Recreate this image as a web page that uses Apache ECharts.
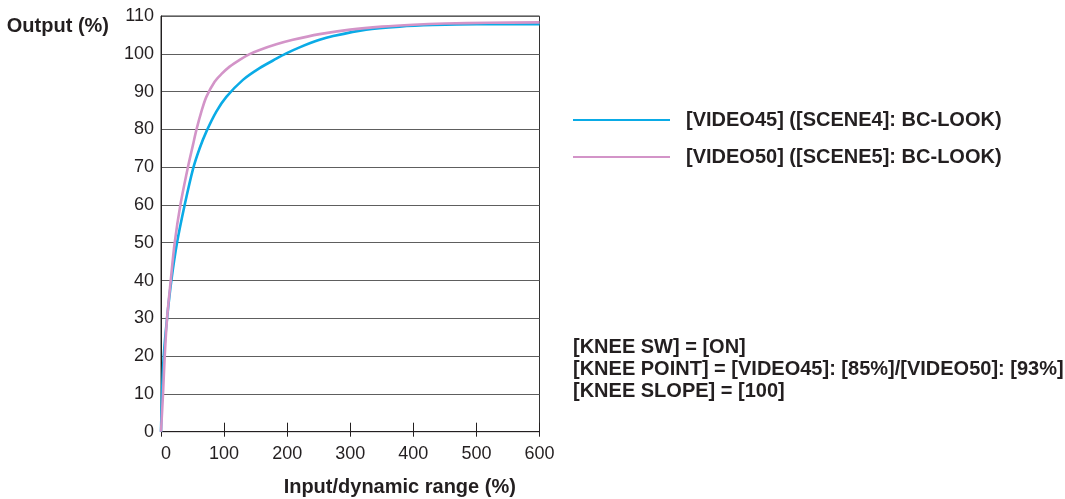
<!DOCTYPE html>
<html>
<head>
<meta charset="utf-8">
<script src="https://cdn.jsdelivr.net/npm/echarts@6/dist/echarts.min.js"></script>
<style>
html,body{margin:0;padding:0;background:#fff;}
#chart{width:1065px;height:499px;}
</style>
</head>
<body>
<div id="chart"></div>
<script>
// ---- data ----
const seriesNames = ['[VIDEO45] ([SCENE4]: BC-LOOK)', '[VIDEO50] ([SCENE5]: BC-LOOK)'];
const video45 = [
  [0,0],[1.6,10],[4.3,20],[9.6,30],[16.4,40],[25.4,50],[37.5,60],[50.7,69.5],[61.3,75],
  [71.9,79.4],[87.7,84.7],[103.6,88.6],[129.9,93.1],[156.3,96.2],[182.8,98.7],[198.6,100.1],
  [219.7,101.7],[251.4,103.7],[273,104.7],[325,106.4],[378,107.2],[431,107.6],[500,107.8],[600,107.8]
];
const video50 = [
  [0,0],[3.2,10],[5.9,20],[9.6,30],[15.4,40],[21.7,50],[30.7,60],[42.8,70.1],[50.7,75.9],
  [56,79.8],[64,84.7],[71.9,88.6],[85,92.6],[95.6,94.6],[108.8,96.6],[124.7,98.4],[140.5,99.9],
  [156.3,101],[182.8,102.5],[209,103.7],[251.4,105.2],[300,106.4],[350,107.2],[400,107.7],
  [450,108],[520,108.2],[600,108.3]
];
const xTicks = [0,100,200,300,400,500,600];
const yTicks = [0,10,20,30,40,50,60,70,80,90,100,110];
const noteLines = [
  '[KNEE SW] = [ON]',
  '[KNEE POINT] = [VIDEO45]: [85%]/[VIDEO50]: [93%]',
  '[KNEE SLOPE] = [100]'
];
const xName = 'Input/dynamic range (%)';
const yName = 'Output (%)';

// ---- chart ----
const FONT = 'Arial, "Liberation Sans", Helvetica, sans-serif';
const TXT = '#231f20';
const chart = echarts.init(document.getElementById('chart'), null, {renderer:'canvas'});
chart.setOption({
  animation: false,
  backgroundColor: '#fff',
  textStyle: {fontFamily: FONT},
  grid: {left:161, right:525.5, top:16, bottom:67.3, show:true, borderColor:'#333', borderWidth:1,
         containLabel:false, outerBoundsMode:'none'},
  legend: {
    orient:'vertical', left:572, top:110, padding:0, itemWidth:97, itemHeight:14, itemGap:17,
    data: seriesNames,
    itemStyle: {opacity:0},
    textStyle: {fontFamily:FONT, fontSize:20, fontWeight:'bold', color:TXT, lineHeight:20, padding:[0,0,0,11]}
  },
  xAxis: [{
    type:'value', min:xTicks[0], max:xTicks[xTicks.length-1], interval:100,
    name:xName, nameLocation:'middle', nameGap:46,
    nameTextStyle:{fontFamily:FONT, fontSize:20, fontWeight:'bold', color:TXT, padding:[0,0,0,99]},
    axisLine:{show:true, lineStyle:{color:TXT, width:1}},
    axisTick:{show:true, inside:true, length:9, lineStyle:{color:TXT, width:1}},
    axisLabel:{fontFamily:FONT, fontSize:18, color:TXT, margin:13, alignMinLabel:'left'},
    splitLine:{show:false}
  },{
    type:'value', min:xTicks[0], max:xTicks[xTicks.length-1], interval:100, position:'bottom',
    axisLine:{show:false},
    axisTick:{show:true, inside:false, length:5, lineStyle:{color:TXT, width:1}},
    axisLabel:{show:false}, splitLine:{show:false}
  }],
  yAxis: {
    type:'value', min:yTicks[0], max:yTicks[yTicks.length-1], interval:10,
    name:yName, nameLocation:'end', nameGap:-10,
    nameTextStyle:{fontFamily:FONT, fontSize:20, fontWeight:'bold', color:TXT, align:'right', verticalAlign:'middle', padding:[0,52,0,0]},
    axisLine:{show:true, lineStyle:{color:TXT, width:1}},
    axisTick:{show:false},
    axisLabel:{fontFamily:FONT, fontSize:18, color:TXT, margin:7},
    splitLine:{show:true, lineStyle:{color:'#5e5e5e', width:1.2}}
  },
  series: [
    {name:seriesNames[0], type:'line', data:video45, smooth:0.3, symbol:'none', showSymbol:false,
     lineStyle:{color:'#0aabe6', width:2.6}, itemStyle:{color:'#0aabe6'}},
    {name:seriesNames[1], type:'line', data:video50, smooth:0.3, symbol:'none', showSymbol:false,
     lineStyle:{color:'#d394c8', width:2.6}, itemStyle:{color:'#d394c8'}}
  ],
  graphic: [{
    type:'text', left:573, top:336,
    style:{text: noteLines.join('\n'), font:'bold 20px ' + FONT, fill:TXT, lineHeight:22}
  }]
});
</script>
</body>
</html>
